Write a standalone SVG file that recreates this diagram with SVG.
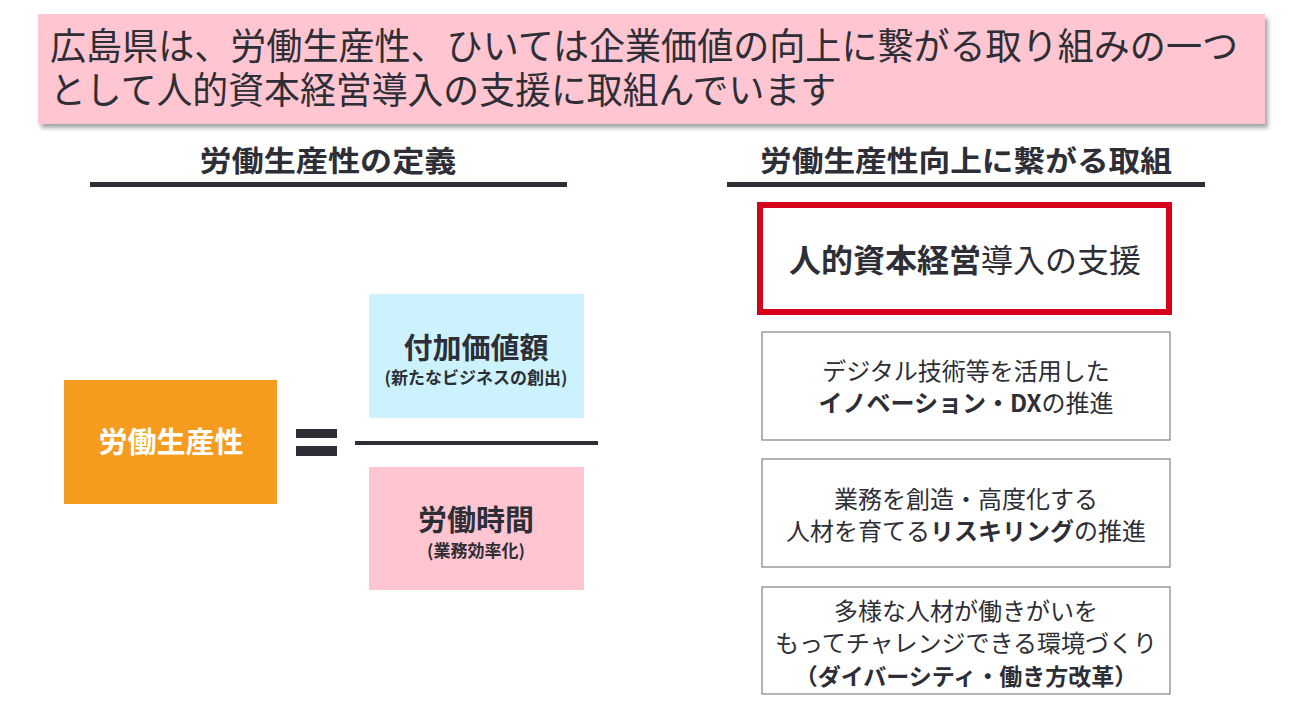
<svg xmlns="http://www.w3.org/2000/svg" width="1300" height="720" viewBox="0 0 1300 720">
<style>
text{font-family:"Noto Sans CJK JP","Noto Sans",sans-serif;fill:#2e2e36}
.b{font-weight:700}
.c{text-anchor:middle}
.box{fill:#fff;stroke:#8a8a8a;stroke-width:1.3}
.bx{font-size:24px}
</style>
<defs>
<filter id="sh" x="-5%" y="-20%" width="110%" height="150%">
<feDropShadow dx="3" dy="4" stdDeviation="2" flood-color="#000" flood-opacity="0.35"/>
</filter>
</defs>
<rect width="1300" height="720" fill="#fff"/>
<g id="title">
<rect x="38" y="14" width="1227" height="110" fill="#ffc5d0" filter="url(#sh)"/>
<text x="50" y="60" font-size="37" textLength="1188" lengthAdjust="spacingAndGlyphs">広島県は、労働生産性、ひいては企業価値の向上に繋がる取り組みの一つ</text>
<text x="50" y="104" font-size="37" textLength="786" lengthAdjust="spacingAndGlyphs">として人的資本経営導入の支援に取組んでいます</text>
</g>
<g id="heading-left">
<text class="b c" x="328" y="172" font-size="29" textLength="257" lengthAdjust="spacingAndGlyphs">労働生産性の定義</text>
<rect x="90" y="182" width="477" height="5" fill="#2e2e36"/>
</g>
<g id="heading-right">
<text class="b c" x="966" y="172" font-size="29" textLength="412" lengthAdjust="spacingAndGlyphs">労働生産性向上に繋がる取組</text>
<rect x="727" y="182" width="478" height="5" fill="#2e2e36"/>
</g>
<g id="productivity">
<rect x="64" y="380" width="213" height="124" fill="#f59c1f"/>
<text class="b c" x="171" y="453" font-size="29" style="fill:#fff">労働生産性</text>
</g>
<g id="equals">
<rect x="296" y="429" width="41" height="9" fill="#2e2e36"/>
<rect x="296" y="446" width="41" height="10" fill="#2e2e36"/>
</g>
<g id="connectors">
<rect x="355" y="441" width="243" height="4" fill="#2e2e36"/>
</g>
<g id="value-added">
<rect x="369" y="294" width="215" height="124" fill="#ccf2fd"/>
<text class="b c" x="476" y="359" font-size="29">付加価値額</text>
<text class="b c" x="476" y="384" font-size="17">(新たなビジネスの創出)</text>
</g>
<g id="work-hours">
<rect x="369" y="467" width="215" height="123" fill="#ffc5d0"/>
<text class="b c" x="476" y="531" font-size="29">労働時間</text>
<text class="b c" x="476" y="557" font-size="17">(業務効率化)</text>
</g>
<g id="hcm">
<rect x="760" y="205" width="409" height="107" fill="#fff" stroke="#d7001b" stroke-width="6"/>
<text class="c" x="965" y="272" font-size="32"><tspan class="b">人的資本経営</tspan>導入の支援</text>
</g>
<g id="dx">
<rect class="box" x="762" y="332" width="408" height="108"/>
<text class="c bx" x="966" y="380">デジタル技術等を活用した</text>
<text class="c bx" x="966" y="412"><tspan class="b">イノベーション・DX</tspan>の推進</text>
</g>
<g id="reskilling">
<rect class="box" x="762" y="459" width="408" height="108"/>
<text class="c bx" x="966" y="508">業務を創造・高度化する</text>
<text class="c bx" x="966" y="540">人材を育てる<tspan class="b">リスキリング</tspan>の推進</text>
</g>
<g id="diversity">
<rect class="box" x="762" y="587" width="408" height="107"/>
<text class="c bx" x="966" y="620">多様な人材が働きがいを</text>
<text class="c bx" x="966" y="652">もってチャレンジできる環境づくり</text>
<text class="c b" x="966" y="685" font-size="23">（ダイバーシティ・働き方改革）</text>
</g>
</svg>
